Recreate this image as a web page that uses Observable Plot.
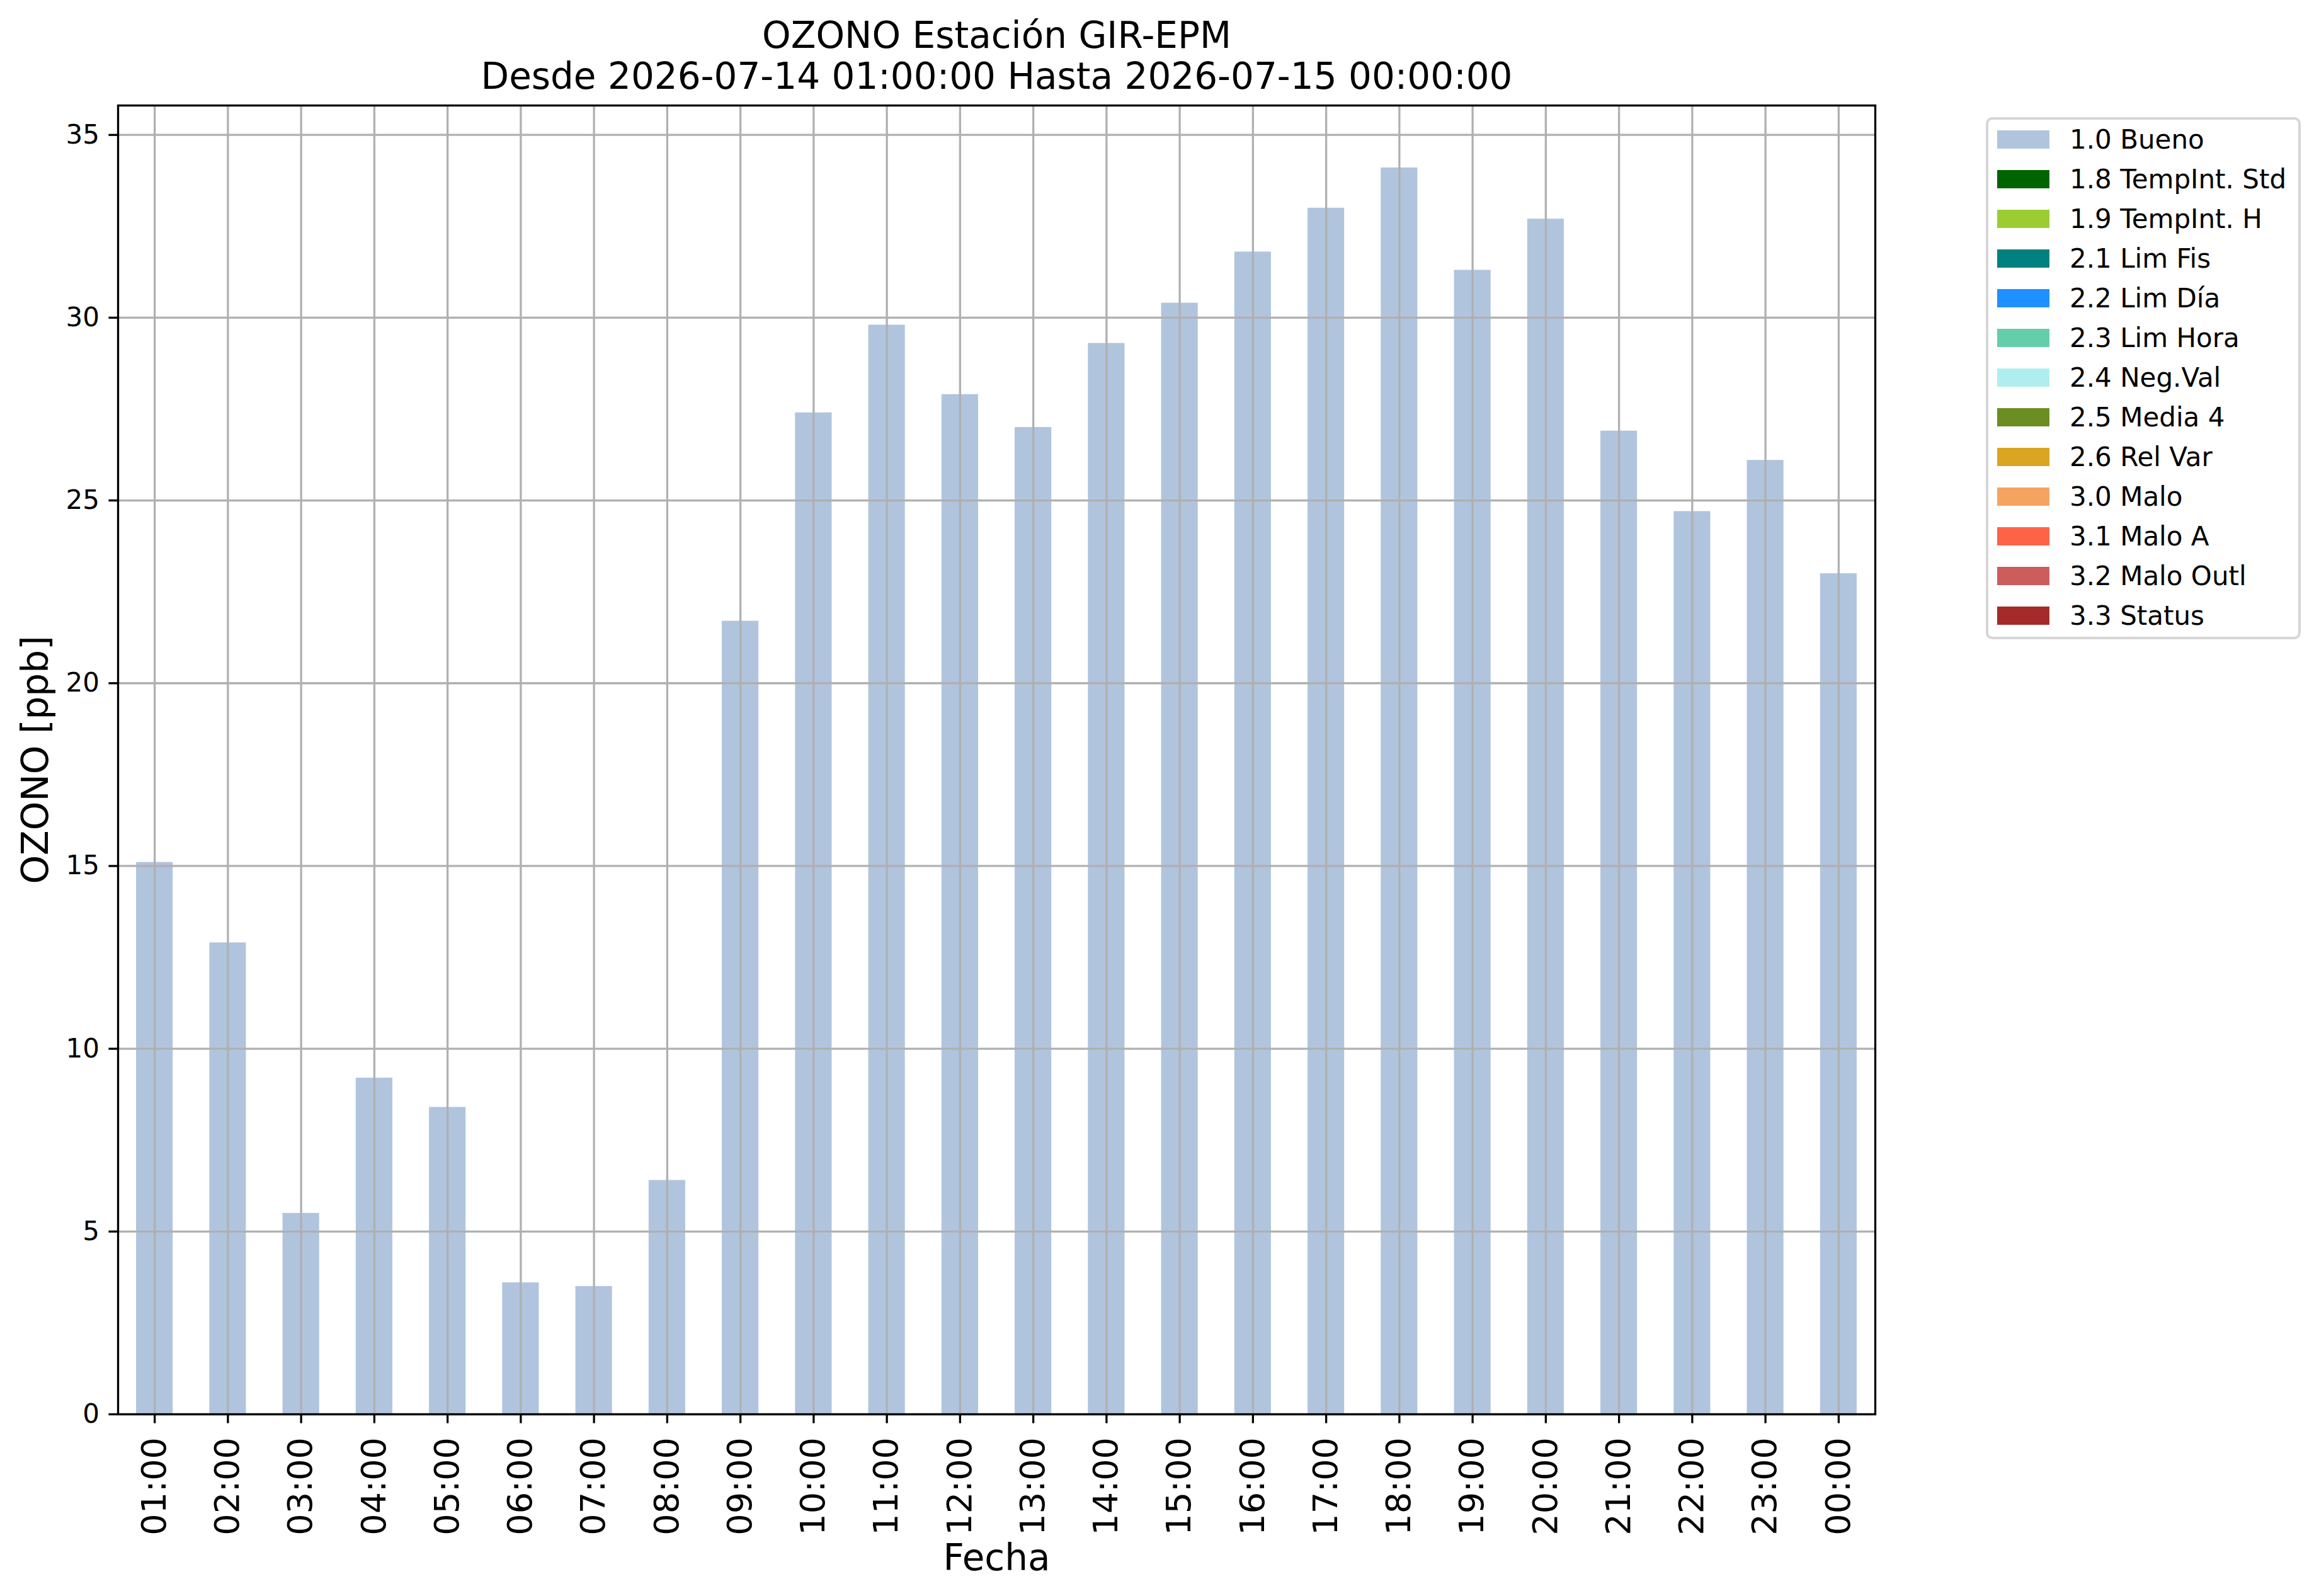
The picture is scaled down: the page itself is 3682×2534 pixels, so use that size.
<!DOCTYPE html>
<html>
<head>
<meta charset="utf-8">
<script src="https://cdn.jsdelivr.net/npm/d3@7"></script>
<script src="https://cdn.jsdelivr.net/npm/@observablehq/plot@0.6"></script>
<style>
  html, body { margin: 0; padding: 0; background: white; }
  #wrap { position: relative; width: 3682px; height: 2534px; overflow: hidden; background: white; font-family: "DejaVu Sans", sans-serif; }
  #chart { position: absolute; left: 0; top: 0; }
  #legend { position: absolute; left: 3153px; top: 186px; width: 500px; height: 829px; box-sizing: border-box;
            border: 4px solid #d6d6d6; border-radius: 10px; background: white; }
  .row { position: absolute; left: 0; height: 63px; display: flex; align-items: center; font-size: 42px; color: black; white-space: nowrap; }
  .sw { width: 83px; height: 29px; margin-left: 14px; margin-right: 32px; flex: none; }
</style>
</head>
<body>
<div id="wrap">
  <div id="chart"></div>
  <div id="legend"></div>
</div>
<script>
// ---- data ----
const hours = ["01:00","02:00","03:00","04:00","05:00","06:00","07:00","08:00","09:00","10:00","11:00","12:00",
               "13:00","14:00","15:00","16:00","17:00","18:00","19:00","20:00","21:00","22:00","23:00","00:00"];
const ozone = [15.1, 12.9, 5.5, 9.2, 8.4, 3.6, 3.5, 6.4, 21.7, 27.4, 29.8, 27.9,
               27.0, 29.3, 30.4, 31.8, 33.0, 34.1, 31.3, 32.7, 26.9, 24.7, 26.1, 23.0];
const flags = hours.map(() => "1.0 Bueno");
const legendLabels = ["1.0 Bueno","1.8 TempInt. Std","1.9 TempInt. H","2.1 Lim Fis","2.2 Lim Día","2.3 Lim Hora",
                      "2.4 Neg.Val","2.5 Media 4","2.6 Rel Var","3.0 Malo","3.1 Malo A","3.2 Malo Outl","3.3 Status"];
const legendColors = ["#B0C4DE","#006400","#9ACD32","#008080","#1E90FF","#66CDAA",
                      "#AFEEEE","#6B8E23","#DAA520","#F4A460","#FF6347","#CD5C5C","#A52A2A"];
const yTicks = [0, 5, 10, 15, 20, 25, 30, 35];
const titleLine1 = "OZONO Estación GIR-EPM";
const titleLine2 = "Desde 2026-07-14 01:00:00 Hasta 2026-07-15 00:00:00";
const xLabel = "Fecha";
const yLabel = "OZONO [ppb]";

const data = hours.map((h, i) => ({hour: h, value: ozone[i], flag: flags[i]}));

const gridColor = "#b0b0b0";
const lw = 3.3;

const chart = Plot.plot({
  width: 3682,
  height: 2534,
  marginLeft: 187,
  marginRight: 705,
  marginTop: 167,
  marginBottom: 289,
  style: {fontFamily: "DejaVu Sans", background: "white", color: "black"},
  x: {domain: hours, type: "band", paddingInner: 0.5, paddingOuter: 0.25, round: false, label: null},
  y: {domain: [0, 35.805], label: null},
  color: {domain: legendLabels, range: legendColors},
  marks: [
    Plot.barY(data, {x: "hour", y: "value", fill: "flag"}),
    Plot.gridX({stroke: gridColor, strokeOpacity: 1, strokeWidth: lw}),
    Plot.gridY({ticks: yTicks, stroke: gridColor, strokeOpacity: 1, strokeWidth: lw}),
    Plot.frame({stroke: "black", strokeWidth: lw}),
    Plot.axisY({ticks: yTicks, tickSize: 14.6, tickPadding: 15, fontSize: 42, strokeWidth: lw, label: null}),
    Plot.axisX({tickRotate: -90, tickSize: 14.6, tickPadding: 22, fontSize: 54, strokeWidth: lw, label: null}),
    Plot.text([titleLine1], {text: d => d, frameAnchor: "top", dy: -92, lineAnchor: "bottom", fontSize: 58}),
    Plot.text([titleLine2], {text: d => d, frameAnchor: "top", dy: -27, lineAnchor: "bottom", fontSize: 58}),
    Plot.text([xLabel], {text: d => d, frameAnchor: "bottom", dy: 247, lineAnchor: "bottom", fontSize: 58}),
    Plot.text([yLabel], {text: d => d, frameAnchor: "left", dx: -112, rotate: -90, lineAnchor: "bottom", textAnchor: "middle", fontSize: 58})
  ]
});
document.getElementById("chart").appendChild(chart);

// legend, colours from the plot's colour scale
const colorScale = chart.scale("color");
const legend = document.getElementById("legend");
legendLabels.forEach((lab, i) => {
  const row = document.createElement("div");
  row.className = "row";
  row.style.top = (63 * i - 0.5) + "px";
  const sw = document.createElement("div");
  sw.className = "sw";
  sw.style.background = colorScale.apply(lab);
  const tx = document.createElement("span");
  tx.textContent = lab;
  row.appendChild(sw);
  row.appendChild(tx);
  legend.appendChild(row);
});
</script>
</body>
</html>
